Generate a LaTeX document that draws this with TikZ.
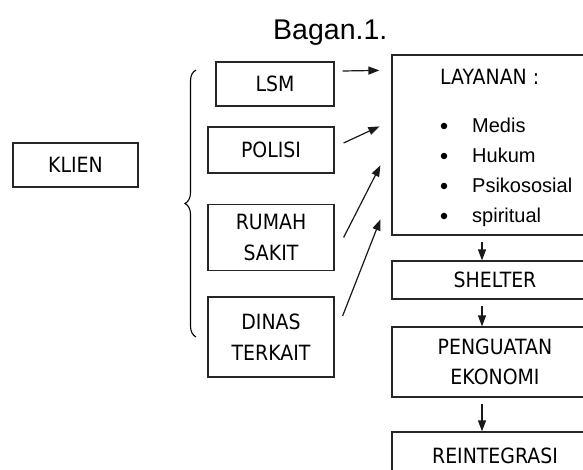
\documentclass[tikz,border=0pt]{standalone}
\usepackage{fontspec}
\setmainfont{Liberation Sans}
\newfontfamily\kotakfont[FakeStretch=0.9]{DejaVu Sans}
\usetikzlibrary{arrows.meta,decorations.pathreplacing}
\tikzset{
  kotak/.style={draw=black!85,line width=1.2pt,inner sep=0pt,align=center,
    font=\kotakfont\fontsize{21}{30.5}\selectfont},
  panah/.style={draw=black!90,line width=1.2pt,-{Triangle[length=11pt,width=8pt]}},
  butir/.style={font=\fontsize{20}{24}\selectfont,anchor=base west,inner sep=0pt},
  titik/.style={circle,fill=black,inner sep=0pt,minimum size=6.5pt},
}

\begin{document}
\begin{tikzpicture}[x=1pt,y=-1pt]
    \useasboundingbox (0,0) rectangle (583,470);
    \fill[white] (0,0) rectangle (583,470);
    \clip (0,0) rectangle (583,470);
    \node[font=\fontsize{28.5}{34}\selectfont,anchor=base west,inner sep=0pt] (judul) at (273,40) {Bagan.1.};
    % kolom kiri
    \node[kotak,minimum width=125pt,minimum height=44pt] (klien) at (75.5,165) {KLIEN};
    \node[kotak,minimum width=118pt,minimum height=44pt] (lsm) at (275,84) {LSM};
    \node[kotak,minimum width=126pt,minimum height=46pt] (polisi) at (271,150) {POLISI};
    \node[kotak,minimum width=126pt,minimum height=66pt] (rumah) at (271,237.5) {RUMAH\\SAKIT};
    \node[kotak,minimum width=126pt,minimum height=80pt] (dinas) at (271,337) {DINAS\\TERKAIT};
    \draw[line width=1.1pt,decorate,decoration={brace,amplitude=11pt}] (196,337) -- (196,70);
    % kolom kanan
    \node[kotak,minimum width=206pt,minimum height=180pt] (layanan) at (495,145) {};
    \node[font=\kotakfont\fontsize{21}{30}\selectfont,anchor=base west,inner sep=0pt] (judullayanan) at (440,85) {LAYANAN :};
    \foreach \teks [count=\i] in {Medis,Hukum,Psikososial,spiritual}{
      \node[butir] (item\i) at (472,{103+30*\i}) {\teks};
      \node[titik] (titik\i) at (444,{96+30*\i}) {};
    }
    \node[kotak,minimum width=206pt,minimum height=38pt] (shelter) at (495,280) {SHELTER};
    \node[kotak,minimum width=206pt,minimum height=70pt] (penguatan) at (495,362) {PENGUATAN\\EKONOMI};
    \node[kotak,minimum width=206pt,minimum height=48pt] (reintegrasi) at (495,456) {REINTEGRASI};
    % panah
    \draw[panah] ([shift={(8pt,13pt)}]lsm.east) -- ([shift={(-12pt,-16pt)}]layanan.north west);
    \draw[panah] ([shift={(9pt,7pt)}]polisi.east) -- ([shift={(-12pt,-72pt)}]layanan.north west);
    \draw[panah] ([shift={(9pt,0pt)}]rumah.east) -- ([shift={(-11pt,-111pt)}]layanan.north west);
    \draw[panah] ([shift={(8pt,21pt)}]dinas.east) -- ([shift={(-11pt,-165pt)}]layanan.north west);
    \foreach \a/\b in {layanan/shelter,shelter/penguatan,penguatan/reintegrasi}
      \draw[panah] ([shift={(-13pt,-6pt)}]\a.south) -- ([xshift=-13pt]\b.north);
\end{tikzpicture}
\end{document}
